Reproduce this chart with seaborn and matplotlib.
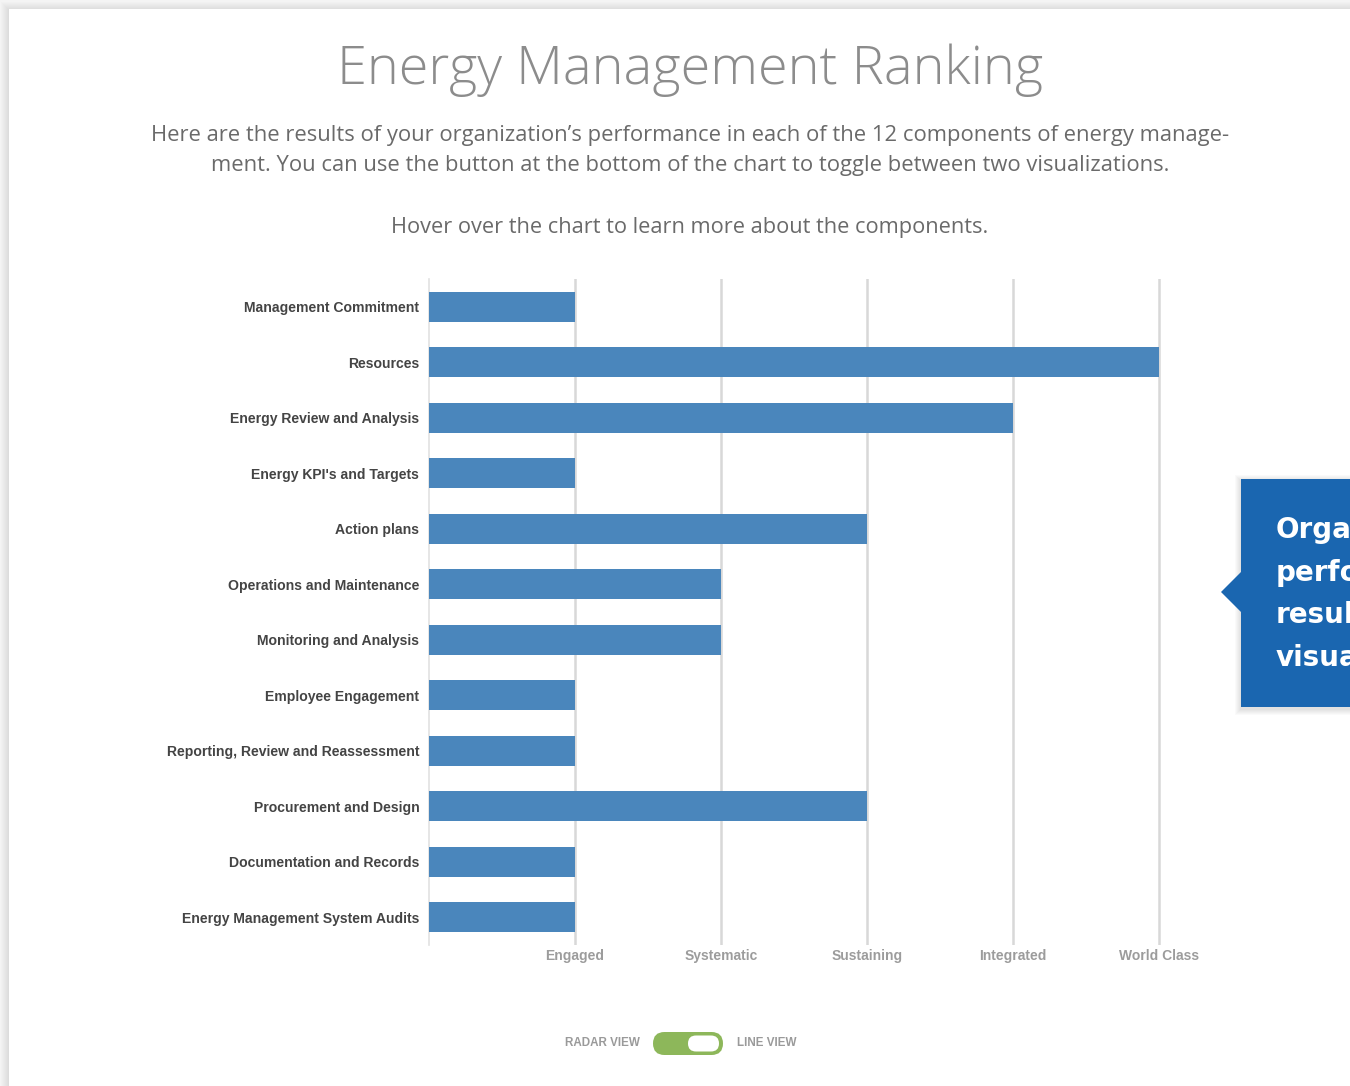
import matplotlib
matplotlib.use("Agg")
import matplotlib.pyplot as plt
import seaborn as sns
import pandas as pd
from matplotlib.patches import Rectangle, FancyBboxPatch, Polygon

components = [
    "Management Commitment",
    "Resources",
    "Energy Review and Analysis",
    "Energy KPI's and Targets",
    "Action plans",
    "Operations and Maintenance",
    "Monitoring and Analysis",
    "Employee Engagement",
    "Reporting, Review and Reassessment",
    "Procurement and Design",
    "Documentation and Records",
    "Energy Management System Audits",
]
scores = [1, 5, 4, 1, 3, 2, 2, 1, 1, 3, 1, 1]
levels = ["Engaged", "Systematic", "Sustaining", "Integrated", "World Class"]

title = "Energy Management Ranking"
intro = ["Here are the results of your organization\u2019s performance in each of the 12 components of energy manage-",
         "ment. You can use the button at the bottom of the chart to toggle between two visualizations."]
hover = "Hover over the chart to learn more about the components."
# callout runs off the right edge of the page, like in the screenshot
callout = ["Organization", "performance", "results", "visualization"]

df = pd.DataFrame({"component": components, "score": scores})

W, H = 1350, 1086
fig = plt.figure(figsize=(W / 100, H / 100), dpi=100)
fig.patch.set_facecolor("#f4f4f4")

# background layer in pixel coords
bg = fig.add_axes([0, 0, 1, 1], zorder=-1)
bg.set_xlim(0, W)
bg.set_ylim(H, 0)
bg.axis("off")

# card with soft shadow
for k in range(8, 0, -1):
    bg.add_patch(Rectangle((9 - k, 9 - k + 1), W, H, color="black", alpha=0.012, lw=0))
bg.add_patch(Rectangle((9, 9), W, H, color="white", lw=0))

# callout box on the right
for k in range(6, 0, -1):
    bg.add_patch(Rectangle((1241 - k, 479 - k + 2), 200, 228 + 2 * k, color="black", alpha=0.02, lw=0))
bg.add_patch(Rectangle((1241, 479), 200, 228, color="#1a66b0", lw=0))
bg.add_patch(Polygon([(1242, 571), (1221, 592), (1242, 613)], closed=True, color="#1a66b0", lw=0))
for i, word in enumerate(callout):
    bg.text(1276, 530 + i * 42.7, word, color="white", fontsize=20, fontweight="bold",
            family="DejaVu Sans", va="center", ha="left")

# header texts
bg.text(690, 70, title, ha="center", va="center", fontsize=39, color="#8c8c8c",
        family="Open Sans", fontweight="light")
for i, line in enumerate(intro):
    bg.text(690, 136 + i * 30, line, ha="center", va="center", fontsize=15.8,
            color="#6a6a6a", family="Open Sans")
bg.text(690, 227, hover, ha="center", va="center", fontsize=15.7, color="#6a6a6a", family="Open Sans")

# toggle
bg.text(640, 1043, "RADAR VIEW", ha="right", va="center", fontsize=8.4, fontweight="bold",
        color="#9a9a9a", family="Liberation Sans")
bg.text(737, 1043, "LINE VIEW", ha="left", va="center", fontsize=8.4, fontweight="bold",
        color="#9a9a9a", family="Liberation Sans")
bg.add_patch(FancyBboxPatch((653, 1032), 70, 23, boxstyle="round,pad=0,rounding_size=11.5",
                            fc="#8db75a", ec="none"))
bg.add_patch(FancyBboxPatch((688, 1035.5), 31, 16, boxstyle="round,pad=0,rounding_size=8",
                            fc="white", ec="none"))

# main chart
ax = fig.add_axes([429 / W, 1 - 945 / H, 5.2 * 146 / W, (945 - 279) / H])
ax.set_facecolor("none")
sns.barplot(data=df, x="score", y="component", orient="h", color="#4a86bc",
            saturation=1, width=0.54, ax=ax, zorder=3)
ax.set_xlim(0, 5.2)
ax.set_ylim(11.5, -0.5)
ax.set_xticks(range(1, 6))
ax.set_xticklabels(levels)
ax.xaxis.grid(True, color="#d8d8d8", lw=1.8, zorder=0)
ax.yaxis.grid(False)
ax.set_axisbelow(True)
for s in ["top", "right", "bottom"]:
    ax.spines[s].set_visible(False)
ax.spines["left"].set_color("#e2e2e2")
ax.spines["left"].set_linewidth(1.2)
ax.tick_params(axis="both", length=0)
ax.tick_params(axis="x", pad=3)
ax.tick_params(axis="y", pad=7)
ax.set_xlabel("")
ax.set_ylabel("")
for lab in ax.get_xticklabels():
    lab.set_family("Liberation Sans")
    lab.set_fontweight("bold")
    lab.set_fontsize(10)
    lab.set_color("#9c9c9c")
for lab in ax.get_yticklabels():
    lab.set_family("Liberation Sans")
    lab.set_fontweight("bold")
    lab.set_fontsize(10.1)
    lab.set_color("#444444")

fig.savefig("out.png", dpi=100, facecolor=fig.get_facecolor())
